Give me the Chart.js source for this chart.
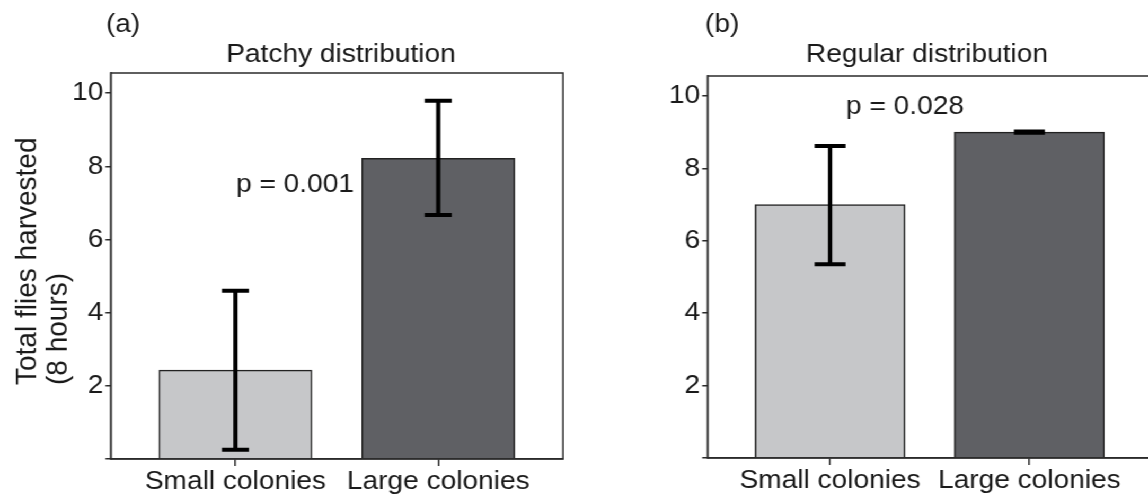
<!DOCTYPE html>
<html>
<head>
<meta charset="utf-8">
<script src="https://cdn.jsdelivr.net/npm/chart.js@4"></script>
<style>
  html, body { margin: 0; padding: 0; background: #fff; overflow: hidden; }
  /* the source figure is slightly stretched sideways, so the drawing is too */
  #wrap { position: absolute; left: 0; top: 0; height: 501px; transform-origin: 0 0; }
  canvas { position: absolute; top: 0; }
</style>
</head>
<body>
<div id="wrap">
  <canvas id="chartA"></canvas>
  <canvas id="chartB"></canvas>
</div>
<script>
const categories = ["Small colonies", "Large colonies"];
const xPositions = [1, 2];
const yTicks = [0, 2, 4, 6, 8, 10];
const yMax = 10.55;

const patchyMeans = [2.43, 8.22];
const patchyLow = [0.25, 6.67];
const patchyHigh = [4.6, 9.79];

const regularMeans = [7.0, 9.0];
const regularLow = [5.35, 8.98];
const regularHigh = [8.62, 9.02];

const barColors = ["#c6c7c9", "#5f6064"];
const family = "'Liberation Sans', Arial, sans-serif";
const ink = "#1a1a1a";
const axisColor = "#2b2b2b";

const STRETCH = 1.06;
const px = t => t / STRETCH;   // page x -> canvas x

const wrap = document.getElementById("wrap");
wrap.style.transform = "scaleX(" + STRETCH + ")";
const splitX = Math.round(px(573.5));
const canvasA = document.getElementById("chartA");
const canvasB = document.getElementById("chartB");
canvasA.width = splitX; canvasA.height = 501; canvasA.style.left = "0px";
canvasB.width = Math.ceil(px(1156)) - splitX; canvasB.height = 501; canvasB.style.left = splitX + "px";

const errorBars = {
    id: "errorBars",
    afterDatasetsDraw(chart, args, opts) {
        const ctx = chart.ctx;
        const x = chart.scales.x, y = chart.scales.y;
        ctx.save();
        ctx.strokeStyle = "#000";
        ctx.lineWidth = 4;
        xPositions.forEach((xv, i) => {
            const p = x.getPixelForValue(xv);
            const lo = y.getPixelForValue(opts.low[i]);
            const hi = y.getPixelForValue(opts.high[i]);
            ctx.beginPath();
            ctx.moveTo(p, lo); ctx.lineTo(p, hi);
            ctx.moveTo(p - opts.cap, lo); ctx.lineTo(p + opts.cap, lo);
            ctx.moveTo(p - opts.cap, hi); ctx.lineTo(p + opts.cap, hi);
            ctx.stroke();
        });
        ctx.restore();
    }
};

const panelText = {
    id: "panelText",
    afterDraw(chart, args, opts) {
        const ctx = chart.ctx;
        const a = chart.chartArea;
        ctx.save();
        ctx.strokeStyle = axisColor;
        ctx.lineWidth = 1.5;
        ctx.strokeRect(a.left, a.top, a.right - a.left, a.bottom - a.top);

        ctx.fillStyle = ink;
        ctx.textBaseline = "alphabetic";
        ctx.font = "26.5px " + family;
        ctx.textAlign = "left";
        ctx.fillText(opts.tag, opts.tagX, 32);
        ctx.textAlign = "center";
        ctx.fillText(opts.title, opts.titleX, 62);
        ctx.textAlign = "left";
        ctx.fillText(opts.pText, opts.pX, opts.pY);

        if (opts.yTitle) {
            ctx.font = "28px " + family;
            opts.yTitle.forEach((line, i) => {
                ctx.save();
                ctx.translate(opts.yTitleX[i], 385);
                ctx.rotate(-Math.PI / 2);
                ctx.fillText(line, 0, 0);
                ctx.restore();
            });
        }
        ctx.restore();
    }
};

// o holds page coordinates; offset is where the canvas starts on the page
function makePanel(canvas, offset, means, low, high, o) {
    const c = t => px(t) - px(offset);
    const t = o.text;
    return new Chart(canvas, {
        type: "bar",
        data: {
            datasets: [{
                data: xPositions.map((xv, i) => ({ x: xv, y: means[i] })),
                backgroundColor: barColors,
                borderColor: "#222",
                borderWidth: 1.5,
                barThickness: px(o.barWidth)
            }]
        },
        options: {
            responsive: false,
            animation: false,
            layout: { padding: { top: o.top, right: canvas.width - c(o.plotRight), left: 0, bottom: 0 } },
            plugins: {
                legend: { display: false },
                tooltip: { enabled: false },
                errorBars: { low, high, cap: px(o.cap) },
                panelText: {
                    tag: t.tag, tagX: c(t.tagX),
                    title: t.title, titleX: c(t.titleX),
                    pText: t.pText, pX: c(t.pX), pY: t.pY,
                    yTitle: t.yTitle, yTitleX: (t.yTitleX || []).map(c)
                }
            },
            scales: {
                x: {
                    type: "linear",
                    offset: false,
                    min: 0.385,
                    max: 2.615,
                    afterFit: s => { s.height = o.xHeight; },
                    afterBuildTicks: s => { s.ticks = xPositions.map(v => ({ value: v })); },
                    ticks: {
                        callback: v => categories[xPositions.indexOf(v)],
                        font: { family, size: 26.5 },
                        color: ink,
                        padding: 0,
                        autoSkip: false,
                        maxRotation: 0
                    },
                    grid: { offset: false, drawOnChartArea: false, tickLength: 7, color: axisColor, lineWidth: 1.5 },
                    border: { color: axisColor, width: 1.5 }
                },
                y: {
                    min: 0,
                    max: yMax,
                    afterFit: s => { s.width = c(o.plotLeft); },
                    afterBuildTicks: s => { s.ticks = yTicks.map(v => ({ value: v })); },
                    ticks: {
                        callback: v => (v === 0 ? "" : String(v)),
                        font: { family, size: 26.5 },
                        color: ink,
                        padding: 2
                    },
                    grid: { drawOnChartArea: false, tickLength: 5, color: axisColor, lineWidth: 1.5 },
                    border: { color: axisColor, width: 1.5 }
                }
            }
        },
        plugins: [errorBars, panelText]
    });
}

makePanel(canvasA, 0, patchyMeans, patchyLow, patchyHigh, {
    plotLeft: 110.7, plotRight: 563, top: 73, xHeight: 42, barWidth: 153, cap: 13.5,
    text: {
        tag: "(a)", tagX: 106,
        title: "Patchy distribution", titleX: 341,
        pText: "p = 0.001", pX: 236, pY: 192,
        yTitle: ["Total flies harvested", "(8 hours)"], yTitleX: [36, 66.5]
    }
});

makePanel(canvasB, splitX * STRETCH, regularMeans, regularLow, regularHigh, {
    plotLeft: 707.5, plotRight: 1152, top: 76, xHeight: 43, barWidth: 150, cap: 15.5,
    text: {
        tag: "(b)", tagX: 705,
        title: "Regular distribution", titleX: 927,
        pText: "p = 0.028", pX: 846, pY: 114
    }
});
</script>
</body>
</html>
